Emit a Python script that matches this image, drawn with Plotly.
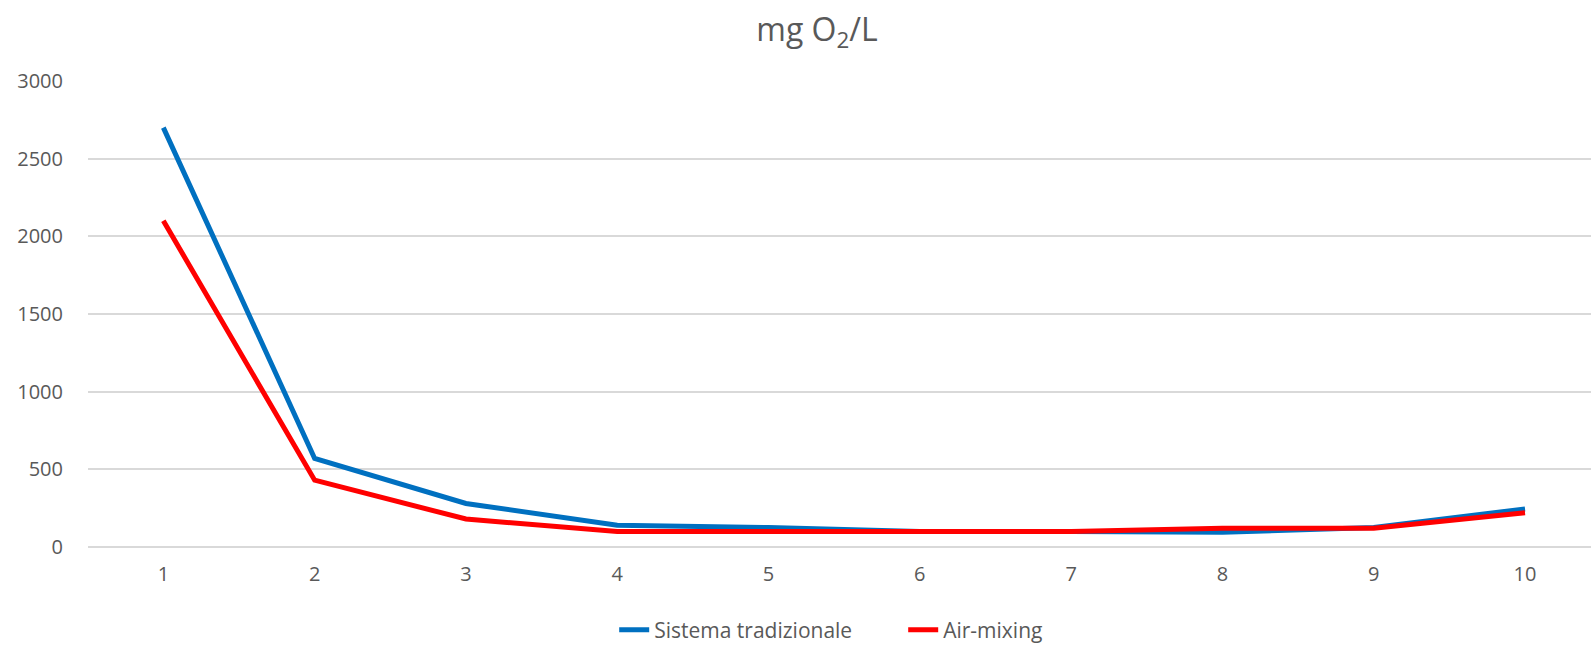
import plotly.graph_objects as go

categories = [1, 2, 3, 4, 5, 6, 7, 8, 9, 10]
tradizionale = [2700, 570, 280, 140, 125, 100, 100, 95, 125, 245]
air_mixing = [2100, 430, 180, 100, 100, 100, 100, 120, 120, 220]
y_ticks = [0, 500, 1000, 1500, 2000, 2500, 3000]

FONT = "Open Sans"
GREY = "#595959"

fig = go.Figure()
fig.add_trace(go.Scatter(x=categories, y=tradizionale, mode="lines",
                         name="Sistema tradizionale",
                         line=dict(color="#0070C0", width=5)))
fig.add_trace(go.Scatter(x=categories, y=air_mixing, mode="lines",
                         name="Air-mixing",
                         line=dict(color="#FF0000", width=5)))

fig.update_layout(
    width=1591, height=645,
    margin=dict(l=88, r=0, t=81, b=98, autoexpand=False),
    paper_bgcolor="white", plot_bgcolor="white",
    font=dict(family=FONT, color=GREY, size=20),
    title=dict(text="mg O<sub>2</sub>/L", x=817/1591, xanchor="center",
               y=1 - 30/645, yanchor="middle",
               font=dict(family=FONT, size=32, color=GREY)),
    showlegend=True,
    legend=dict(orientation="h", x=557/1591, xanchor="left",
                yref="container", y=1 - 630/645, yanchor="middle",
                entrywidth=244, entrywidthmode="pixels",
                font=dict(family=FONT, size=21, color=GREY)),
    xaxis=dict(range=[0.502, 10.436], tickmode="array", tickvals=categories,
               ticktext=[str(c) for c in categories],
               showgrid=False, zeroline=False, showline=False,
               ticks="", ticklabelstandoff=13,
               tickfont=dict(family=FONT, size=20, color=GREY)),
    yaxis=dict(range=[0, 3000], tickmode="array", tickvals=y_ticks,
               showgrid=True, gridcolor="#d9d9d9", gridwidth=1.5,
               zeroline=True, zerolinecolor="#d9d9d9", zerolinewidth=1.5,
               showline=False, ticks="", ticklabelstandoff=24,
               tickfont=dict(family=FONT, size=20, color=GREY)),
)

fig.write_html("out.html")
